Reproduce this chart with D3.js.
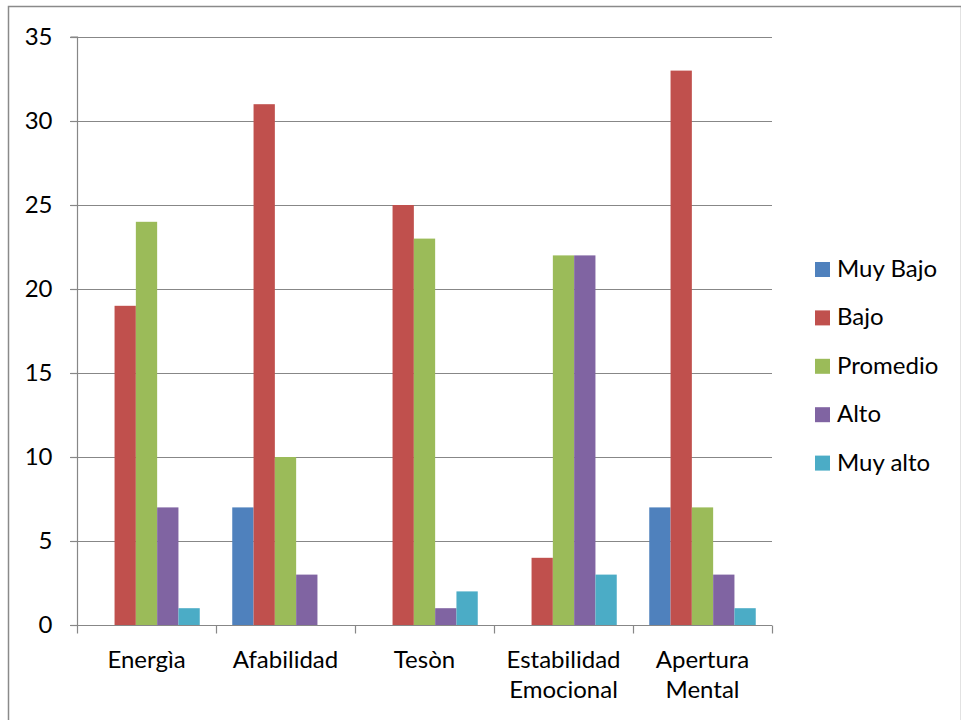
<!DOCTYPE html>
<html><head><meta charset="utf-8">
<script src="https://cdn.jsdelivr.net/npm/d3@7"></script>
<style>body{margin:0;background:#fff}svg{display:block}text{font-family:Lato,"Open Sans",sans-serif;fill:#000}</style>
</head><body>
<script>
const categories = [["Energìa"],["Afabilidad"],["Tesòn"],["Estabilidad","Emocional"],["Apertura","Mental"]];
const series = ["Muy Bajo","Bajo","Promedio","Alto","Muy alto"];
const colors = ["#4F81BD","#C0504D","#9BBB59","#8064A2","#4BACC6"];
const muyBajo = [0,7,0,0,7];
const bajo = [19,31,25,4,33];
const promedio = [24,10,23,22,7];
const alto = [7,3,1,22,3];
const muyAlto = [1,0,2,3,1];
const yTicks = [0,5,10,15,20,25,30,35];
const values = [muyBajo,bajo,promedio,alto,muyAlto];

const W=961,H=720,FS="24px";
const svg=d3.select("body").append("svg").attr("width",W).attr("height",H);
svg.append("rect").attr("x",8.5).attr("y",6.5).attr("width",W-8).attr("height",H).attr("fill","none").attr("stroke","#8a8a8a").attr("stroke-width",1.5);

const pL=77,pR=772,pT=37,pB=625;
const y=d3.scaleLinear().domain([0,35]).range([pB,pT]);
const x=d3.scaleBand().domain(categories.map((c,i)=>i)).range([pL,pR]).paddingInner(0).paddingOuter(0);
const bw=x.bandwidth();
const xs=d3.scaleBand().domain(series.map((s,i)=>i)).range([16.25,bw-16.25]).padding(0);

// gridlines
svg.append("g").selectAll("line").data(yTicks.filter(t=>t>0)).join("line")
 .attr("x1",pL-7).attr("x2",pR).attr("y1",d=>Math.round(y(d))+0.5).attr("y2",d=>Math.round(y(d))+0.5)
 .attr("stroke","#878787").attr("stroke-width",1.2);

// bars
const g=svg.append("g");
series.forEach((s,si)=>{
  g.append("g").selectAll("rect").data(values[si]).join("rect")
   .attr("x",(d,i)=>x(i)+xs(si)).attr("width",xs.bandwidth())
   .attr("y",d=>y(d)).attr("height",d=>pB-y(d))
   .attr("fill",colors[si]);
});

// y axis
const ya=svg.append("g").attr("transform",`translate(${pL+0.5},0)`)
 .call(d3.axisLeft(y).tickValues(yTicks).tickSize(7).tickPadding(18).tickFormat(d3.format("d")));
ya.selectAll("line,path").attr("stroke","#878787").attr("stroke-width",1.2);
ya.selectAll("text").style("font-size",FS).attr("fill","#000").attr("font-family",null);
ya.attr("font-family",null);
ya.select(".domain").attr("d",`M-7,${pT}H0V${pB}`);

// x axis
const xa=svg.append("g").attr("transform",`translate(0,${pB+0.5})`);
xa.append("line").attr("x1",pL-7).attr("x2",pR).attr("stroke","#878787").attr("stroke-width",1.2);
const tickPos=d3.range(categories.length+1).map(i=>pL+i*bw);
xa.selectAll("line.t").data(tickPos).join("line").attr("class","t")
 .attr("x1",d=>Math.round(d)+0.5).attr("x2",d=>Math.round(d)+0.5).attr("y1",0).attr("y2",8)
 .attr("stroke","#878787").attr("stroke-width",1.2);
categories.forEach((c,i)=>{
  const t=xa.append("text").attr("text-anchor","middle").style("font-size",FS);
  c.forEach((line,li)=>t.append("tspan").attr("x",x(i)+bw/2).attr("y",42+li*30.5).text(line));
});

// legend
const lg=svg.append("g");
series.forEach((s,i)=>{
  const cy=269.5+i*48.4;
  lg.append("rect").attr("x",815).attr("y",cy-7.5).attr("width",15).attr("height",15).attr("fill",colors[i]);
  lg.append("text").attr("x",837).attr("y",cy+7.5).style("font-size",FS).text(s);
});
</script>
</body></html>
